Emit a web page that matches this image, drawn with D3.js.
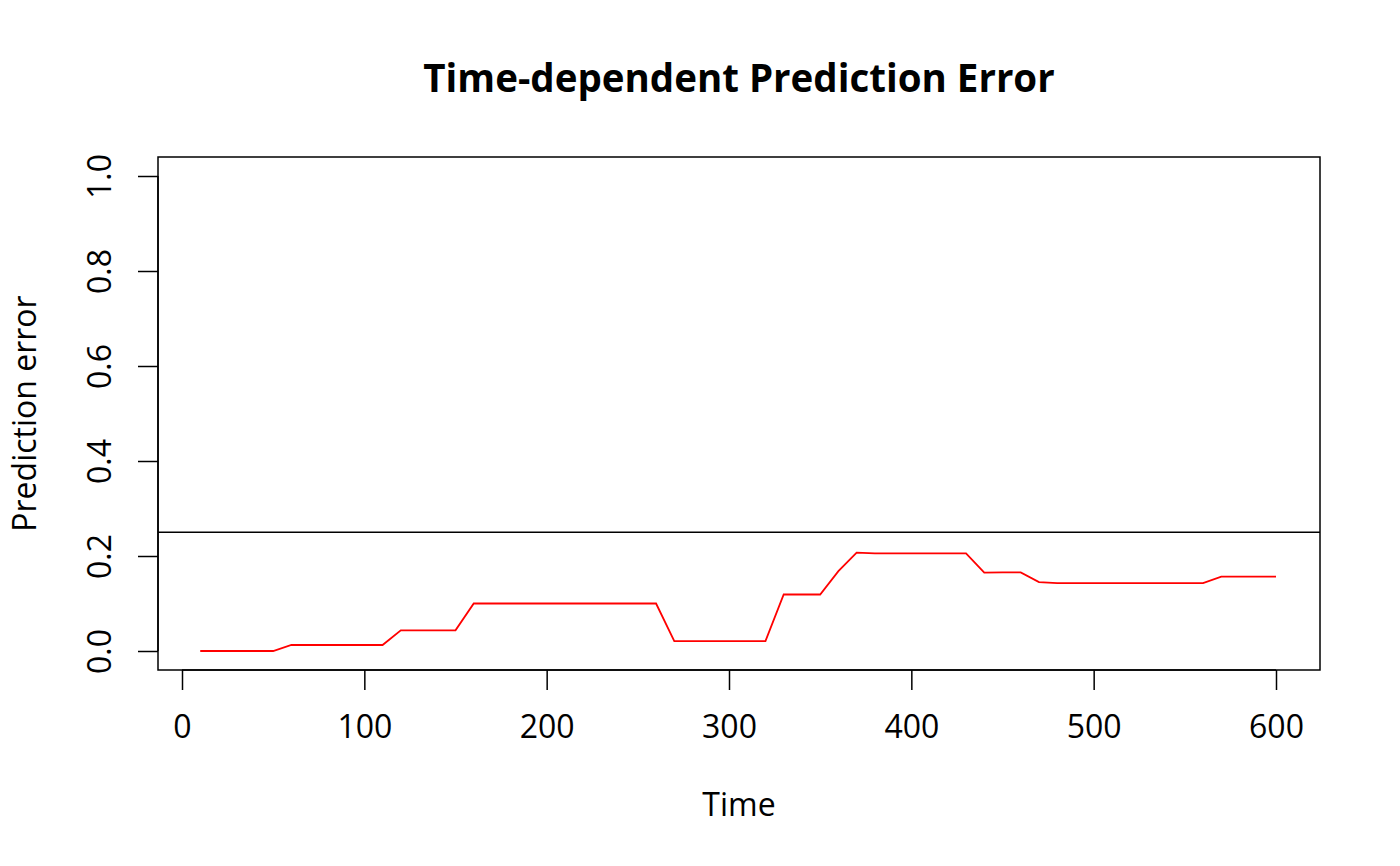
<!DOCTYPE html>
<html lang="en">
<head>
<meta charset="UTF-8">
<title>Time-dependent Prediction Error</title>
<script src="https://d3js.org/d3.v7.min.js"></script>
<style>
    body { margin: 0; background: white; }
    text { font-family: "Open Sans", sans-serif; fill: black; }
</style>
</head>
<body>
<svg width="1400" height="866"></svg>
<script>
    // data
    const times = [10, 20, 30, 40, 50, 60, 70, 80, 90, 100,
                   110, 120, 130, 140, 150, 160, 170, 180, 190, 200,
                   210, 220, 230, 240, 250, 260, 270, 280, 290, 300,
                   310, 320, 330, 340, 350, 360, 370, 380, 390, 400,
                   410, 420, 430, 440, 450, 460, 470, 480, 490, 500,
                   510, 520, 530, 540, 550, 560, 570, 580, 590, 600];
    const predError = [0, 0, 0, 0, 0, 0.0126, 0.0126, 0.0126, 0.0126, 0.0126,
                       0.0126, 0.0435, 0.0435, 0.0435, 0.0435, 0.1, 0.1, 0.1, 0.1, 0.1,
                       0.1, 0.1, 0.1, 0.1, 0.1, 0.1, 0.021, 0.021, 0.021, 0.021,
                       0.021, 0.021, 0.119, 0.119, 0.119, 0.168, 0.207, 0.2055, 0.2055, 0.2055,
                       0.2055, 0.2055, 0.2055, 0.165, 0.1655, 0.1655, 0.145, 0.143, 0.143, 0.143,
                       0.143, 0.143, 0.143, 0.143, 0.143, 0.143, 0.1565, 0.1565, 0.1565, 0.1565];
    const refLine = 0.25;
    const xTicks = [0, 100, 200, 300, 400, 500, 600];
    const yTicks = [0, 0.2, 0.4, 0.6, 0.8, 1.0];

    const svg = d3.select("svg");

    const box = {left: 158, right: 1320, top: 157, bottom: 670};

    const x = d3.scaleLinear().domain([0, 600]).range([182, 1276]);
    const y = d3.scaleLinear().domain([0, 1]).range([651, 176]);

    // plot frame
    svg.append("rect")
        .attr("x", box.left).attr("y", box.top)
        .attr("width", box.right - box.left)
        .attr("height", box.bottom - box.top)
        .attr("fill", "none").attr("stroke", "black").attr("stroke-width", 1.5);

    // x axis
    const xAxis = d3.axisBottom(x).tickValues(xTicks).tickSize(20)
        .tickFormat(d3.format("d"));
    const gx = svg.append("g").attr("transform", `translate(0,${box.bottom})`).call(xAxis);
    gx.select(".domain").attr("d", `M${x(0)},0H${x(600)}`).attr("stroke-width", 1.5);
    gx.selectAll(".tick line").attr("stroke-width", 1.5);
    gx.selectAll("text")
        .attr("font-size", 32).attr("font-family", "Open Sans")
        .attr("y", 57).attr("dy", "0.35em");

    // y axis
    const yAxis = d3.axisLeft(y).tickValues(yTicks).tickSize(20)
        .tickFormat(d3.format(".1f"));
    const gy = svg.append("g").attr("transform", `translate(${box.left},0)`).call(yAxis);
    gy.select(".domain").attr("d", `M0,${y(0)}V${y(1)}`).attr("stroke-width", 1.5);
    gy.selectAll(".tick line").attr("stroke-width", 1.5);
    gy.selectAll("text")
        .attr("font-size", 32).attr("font-family", "Open Sans")
        .attr("text-anchor", "middle")
        .attr("x", 0)
        .attr("transform", "translate(-58,0) rotate(-90)")
        .attr("dy", "0.35em");

    // reference line
    svg.append("line")
        .attr("x1", box.left).attr("x2", box.right)
        .attr("y1", y(refLine)).attr("y2", y(refLine))
        .attr("stroke", "black").attr("stroke-width", 1.5);

    // prediction error curve
    const line = d3.line().x((d, i) => x(times[i])).y(d => y(d));
    svg.append("path")
        .datum(predError)
        .attr("d", line)
        .attr("fill", "none")
        .attr("stroke", "red")
        .attr("stroke-width", 1.8);

    // titles
    svg.append("text")
        .attr("x", (box.left + box.right) / 2).attr("y", 79)
        .attr("text-anchor", "middle").attr("dy", "0.35em")
        .attr("font-size", 38.5).attr("font-weight", "bold")
        .text("Time-dependent Prediction Error");

    svg.append("text")
        .attr("x", (box.left + box.right) / 2).attr("y", 805)
        .attr("text-anchor", "middle").attr("dy", "0.35em")
        .attr("font-size", 32)
        .text("Time");

    svg.append("text")
        .attr("transform", `translate(25,${(box.top + box.bottom) / 2}) rotate(-90)`)
        .attr("text-anchor", "middle").attr("dy", "0.35em")
        .attr("font-size", 32)
        .text("Prediction error");
</script>
</body>
</html>
